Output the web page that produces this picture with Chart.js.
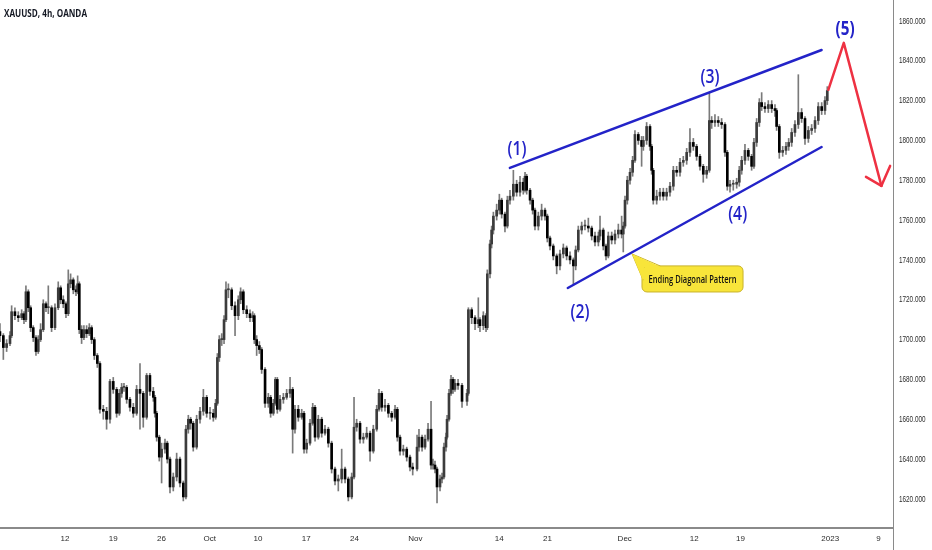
<!DOCTYPE html>
<html>
<head>
<meta charset="utf-8">
<script src="https://cdn.jsdelivr.net/npm/chart.js@4.4.1/dist/chart.umd.min.js"></script>
<style>
  html, body { margin: 0; padding: 0; background: #ffffff; }
  #chart { display: block; }
</style>
</head>
<body>
<canvas id="chart" width="932" height="550"></canvas>
<script>
// XAUUSD 4h candles (x = trading day, 0 = Sep 12)
var firstOpen = 1704;

var barDay = [
  -6.74,-6.39,-6.05,-5.70,-5.53,-5.19,-4.84,-4.49,-4.25,-4.05,
  -3.80,-3.56,-3.29,-3.01,-2.77,-2.53,-2.25,-1.97,-1.73,-1.39,
  -1.04,-0.70,-0.45,-0.18,0.10,0.34,0.58,0.86,1.14,1.31,
  1.48,1.72,1.96,2.24,2.52,2.76,3.04,3.35,3.62,3.97,
  4.31,4.66,5.00,5.35,5.63,5.87,6.11,6.39,6.73,7.08,
  7.42,7.77,8.11,8.46,8.80,9.15,9.32,9.50,9.77,10.01,
  10.36,10.60,10.88,11.22,11.57,11.91,12.26,12.53,12.78,13.02,
  13.29,13.64,13.99,
  14.34,14.68,15.03,15.37,15.61,15.79,15.99,16.24,16.48,16.68,
  16.93,17.27,17.62,17.96,18.20,18.48,18.83,19.17,19.45,19.62,
  19.86,20.14,20.38,20.73,21.07,21.31,21.59,21.80,22.00,22.28,
  22.63,22.97,23.32,23.59,23.83,24.18,24.53,24.77,25.04,25.39,
  25.67,25.91,26.25,26.60,26.94,27.29,27.63,27.98,28.32,28.67,
  29.02,29.36,29.71,29.95,30.22,30.57,30.92,31.26,31.61,31.95,
  32.30,32.54,32.82,33.16,33.51,33.85,34.20,34.44,34.72,35.06,
  35.41,35.75,36.03,
  36.48,36.68,37.00,37.31,37.62,37.93,38.13,38.34,38.55,38.86,
  39.07,39.27,39.48,39.59,39.79,40.00,40.21,40.41,40.73,41.14,41.66,
  41.80,42.14,42.49,42.83,43.00,43.35,43.63,43.76,44.04,44.21,
  44.39,44.73,45.01,45.25,45.59,45.84,46.11,46.46,46.80,47.15,
  47.49,47.67,47.84,48.19,48.46,48.70,49.05,49.39,49.74,49.98,
  50.26,50.60,50.95,51.29,51.64,51.98,52.33,52.68,52.92,53.19,
  53.54,53.88,54.23,54.58,54.92,55.27,
  55.44,55.78,56.06,56.30,56.65,56.99,57.34,57.68,57.85,58.03,
  58.27,58.55,58.82,59.06,59.41,59.75,59.93,60.27,60.62,60.79,
  60.96,61.31,61.65,62.00,62.34,62.69,63.04,63.38,63.73,64.07,
  64.42,64.76,65.11,65.45,65.80,66.14,66.49,66.77,67.01,67.35,
  67.70,68.04,68.39,68.63,68.91,69.25,69.60,69.87,70.12,70.46,
  70.81,71.15,71.39,71.67,71.95,72.19,72.53,72.88,73.23,73.57,
  73.74,74.02,74.37,74.71,74.99,75.30,75.64,75.99,76.33,76.68,
  77.03,77.37,77.72,78.06,78.41,78.75,78.99
];

var barClose = [
  1702,1696,1698,1702,1714,1712,1711,1713,1710,1724,
  1716,1706,1701,1694,1700,1705,1718,1716,1716,1706,
  1716,1726,1720,1718,1713,1728,1730,1725,1724,1728,
  1705,1701,1705,1703,1706,1700,1692,1688,1665,1664,
  1660,1679,1675,1663,1673,1676,1676,1670,1666,1663,
  1675,1673,1661,1682,1674,1671,1663,1651,1641,1645,
  1648,1640,1626,1631,1640,1628,1621,1655,1660,1658,
  1646,1660,1664,
  1671,1663,1663,1661,1668,1691,1700,1700,1710,1725,
  1725,1717,1712,1720,1724,1715,1713,1711,1712,1700,
  1697,1695,1685,1668,1671,1663,1668,1680,1665,1670,
  1671,1673,1675,1655,1665,1661,1663,1645,1648,1658,
  1666,1651,1660,1653,1655,1648,1635,1629,1630,1635,
  1630,1621,1631,1656,1658,1650,1651,1653,1644,1655,
  1665,1673,1666,1667,1663,1661,1665,1651,1644,1645,
  1641,1636,1635,
  1646,1651,1646,1650,1655,1637,1637,1635,1626,1630,
  1631,1646,1651,1660,1673,1680,1675,1678,1677,1669,1673,
  1715,1711,1708,1710,1707,1712,1706,1733,1748,1755,
  1762,1765,1770,1763,1757,1770,1772,1778,1774,1779,
  1775,1782,1775,1770,1765,1757,1762,1765,1762,1751,
  1747,1742,1737,1743,1746,1742,1740,1737,1745,1755,
  1757,1757,1756,1752,1749,1752,
  1755,1747,1742,1752,1750,1753,1755,1753,1757,1770,
  1780,1784,1790,1803,1800,1797,1800,1807,1797,1785,
  1770,1772,1774,1772,1774,1777,1785,1784,1789,1790,
  1794,1799,1797,1792,1787,1783,1785,1810,1809,1810,
  1809,1808,1794,1777,1778,1778,1779,1785,1790,1795,
  1792,1787,1799,1809,1819,1817,1816,1818,1816,1815,
  1807,1794,1795,1797,1799,1804,1808,1814,1811,1801,
  1805,1806,1810,1817,1815,1820,1825
];

var barHigh = [
  1708,1703,1700,1704,1717,1716,1714,1715,1714,1727,
  1725,1717,1707,1702,1702,1708,1720,1719,1727,1717,
  1718,1729,1727,1722,1719,1735,1733,1731,1727,1732,
  1729,1707,1707,1707,1708,1707,1701,1693,1689,1667,
  1666,1680,1681,1676,1675,1678,1678,1677,1671,1668,
  1677,1688,1674,1683,1683,1676,1672,1664,1652,1648,
  1650,1649,1641,1633,1643,1641,1629,1657,1662,1661,
  1659,1662,1666,
  1675,1672,1666,1665,1670,1693,1702,1703,1712,1729,
  1728,1726,1719,1722,1726,1725,1717,1715,1714,1713,
  1702,1699,1696,1686,1673,1672,1670,1681,1681,1672,
  1673,1675,1681,1676,1667,1667,1665,1664,1650,1660,
  1668,1667,1662,1661,1657,1656,1649,1636,1632,1645,
  1636,1631,1633,1671,1660,1659,1653,1656,1654,1657,
  1667,1675,1674,1670,1668,1664,1667,1666,1652,1647,
  1646,1642,1638,
  1652,1655,1652,1652,1658,1669,1640,1639,1636,1632,
  1633,1648,1653,1662,1675,1682,1681,1680,1680,1678,1675,
  1716,1716,1712,1721,1711,1714,1713,1735,1750,1757,
  1764,1768,1773,1771,1764,1772,1775,1785,1780,1782,
  1781,1784,1783,1776,1771,1766,1764,1768,1766,1763,
  1752,1748,1743,1745,1748,1747,1744,1741,1747,1757,
  1759,1760,1761,1757,1754,1754,
  1762,1756,1748,1754,1754,1755,1758,1762,1759,1772,
  1782,1786,1792,1805,1804,1802,1802,1809,1808,1798,
  1786,1775,1776,1776,1776,1779,1787,1787,1791,1792,
  1796,1806,1801,1798,1793,1788,1787,1824,1812,1813,
  1812,1811,1809,1795,1780,1780,1781,1787,1792,1798,
  1796,1793,1801,1811,1821,1824,1819,1820,1820,1818,
  1816,1808,1797,1799,1801,1806,1810,1833,1816,1812,
  1807,1808,1812,1819,1819,1822,1827
];

var barLow = [
  1699,1690,1694,1697,1701,1710,1709,1710,1708,1709,
  1714,1704,1699,1692,1693,1699,1704,1714,1713,1704,
  1705,1715,1718,1716,1711,1712,1726,1723,1722,1723,
  1703,1698,1700,1701,1702,1698,1690,1686,1663,1660,
  1655,1658,1673,1661,1662,1671,1674,1668,1664,1661,
  1662,1655,1656,1660,1672,1669,1661,1649,1639,1628,
  1643,1638,1623,1624,1629,1626,1619,1620,1653,1655,
  1644,1645,1658,
  1662,1661,1660,1659,1660,1667,1689,1697,1698,1709,
  1721,1715,1702,1710,1718,1713,1711,1709,1709,1698,
  1692,1693,1683,1666,1666,1661,1662,1667,1663,1664,
  1668,1670,1671,1643,1653,1659,1660,1643,1643,1647,
  1657,1649,1650,1651,1652,1646,1633,1627,1624,1628,
  1628,1619,1620,1630,1654,1648,1648,1650,1639,1643,
  1654,1664,1664,1664,1661,1659,1660,1649,1642,1642,
  1639,1634,1632,
  1634,1644,1644,1645,1649,1635,1635,1633,1618,1624,
  1628,1630,1644,1650,1659,1672,1673,1674,1675,1666,1667,
  1672,1708,1705,1706,1704,1705,1704,1705,1731,1746,
  1753,1760,1763,1761,1754,1756,1768,1770,1772,1772,
  1773,1774,1773,1768,1763,1755,1755,1760,1760,1749,
  1745,1740,1733,1735,1741,1740,1738,1728,1735,1744,
  1753,1755,1754,1750,1747,1747,
  1750,1745,1740,1741,1748,1748,1751,1751,1744,1756,
  1768,1778,1782,1789,1798,1787,1795,1798,1795,1783,
  1768,1768,1770,1770,1770,1772,1775,1782,1782,1787,
  1788,1792,1795,1790,1785,1779,1781,1784,1806,1807,
  1807,1806,1792,1775,1774,1775,1776,1777,1783,1788,
  1790,1785,1786,1797,1807,1815,1814,1814,1814,1812,
  1805,1791,1792,1793,1795,1797,1802,1806,1809,1798,
  1799,1803,1804,1808,1813,1813,1818
];

// bottom axis labels and where they sit (trading day)
var tickDays = [0, 5, 10, 15, 20, 25, 30, 36.3, 45, 50, 58, 65.2, 70, 79.3, 84.3];
var tickNames = ["12", "19", "26", "Oct", "10", "17", "24", "Nov", "14", "21", "Dec", "12", "19", "2023", "9"];
var priceTicks = [1620, 1640, 1660, 1680, 1700, 1720, 1740, 1760, 1780, 1800, 1820, 1840, 1860];

// elliott wave drawing, in (day, price)
var upperLine = [[46.1, 1786.2], [78.4, 1845.4]];
var lowerLine = [[52.1, 1725.9], [78.4, 1796.7]];
var waveLabels = ["(1)", "(2)", "(3)", "(4)", "(5)"];
var waveAt = [[46.84, 1795.2], [53.37, 1713.4], [66.84, 1831.4], [69.7, 1762.6], [80.83, 1856.0]];
var projection = [[79.1, 1825.4], [80.7, 1849.0], [84.6, 1777.2]];
var arrowWings = [[83.0, 1781.7], [85.5, 1787.2]];
var noteText = "Ending Diagonal Pattern";
var noteBox = [[59.79, 1737.0], [70.26, 1723.9]];
var notePointer = [[58.76, 1743.0], [59.90, 1730.0], [61.66, 1737.0]];

var bodies = [], wicks = [], bodyColors = [];
for (var i = 0; i < barClose.length; i++) {
    var o = i === 0 ? firstOpen : barClose[i - 1];
    var c = barClose[i];
    bodies.push({x: barDay[i], y: [Math.min(o, c), Math.max(o, c)]});
    wicks.push({x: barDay[i], y: [barLow[i], barHigh[i]]});
    bodyColors.push(c >= o ? '#3c3c3c' : '#000000');
}

var BLUE = '#2323c8';
var RED = '#ee3142';

function squeezeText(ctx, text, x, y, font, color, width, align) {
    ctx.save();
    ctx.font = font;
    ctx.fillStyle = color;
    ctx.textBaseline = 'middle';
    var w = ctx.measureText(text).width;
    var sx = width ? width / w : 1;
    ctx.translate(x, y);
    ctx.scale(sx, 1);
    ctx.textAlign = align || 'center';
    ctx.fillText(text, 0, 0);
    ctx.restore();
}

var overlay = {
    id: 'overlay',
    afterDatasetsDraw: function (chart) {
        var ctx = chart.ctx, xs = chart.scales.x, ys = chart.scales.y;
        var px = function (p) { return [xs.getPixelForValue(p[0]), ys.getPixelForValue(p[1])]; };

        ctx.save();
        ctx.lineCap = 'round';
        ctx.lineJoin = 'round';

        // trend lines of the diagonal
        ctx.strokeStyle = BLUE;
        ctx.lineWidth = 2.5;
        [upperLine, lowerLine].forEach(function (ln) {
            var a = px(ln[0]), b = px(ln[1]);
            ctx.beginPath();
            ctx.moveTo(a[0], a[1]);
            ctx.lineTo(b[0], b[1]);
            ctx.stroke();
        });

        // projected wave 5 and the drop
        ctx.strokeStyle = RED;
        ctx.lineWidth = 2.5;
        ctx.beginPath();
        projection.forEach(function (p, k) {
            var q = px(p);
            if (k === 0) ctx.moveTo(q[0], q[1]); else ctx.lineTo(q[0], q[1]);
        });
        ctx.stroke();
        var tip = px(projection[projection.length - 1]);
        arrowWings.forEach(function (w) {
            var q = px(w);
            ctx.beginPath();
            ctx.moveTo(q[0], q[1]);
            ctx.lineTo(tip[0], tip[1]);
            ctx.stroke();
        });

        // callout
        var b0 = px(noteBox[0]), b1 = px(noteBox[1]);
        var t0 = px(notePointer[0]), t1 = px(notePointer[1]), t2 = px(notePointer[2]);
        ctx.fillStyle = '#f8e53a';
        ctx.strokeStyle = '#c8b22a';
        ctx.lineWidth = 1;
        ctx.beginPath();
        ctx.roundRect(b0[0], b0[1], b1[0] - b0[0], b1[1] - b0[1], 5);
        ctx.fill();
        ctx.stroke();
        ctx.beginPath();
        ctx.moveTo(t1[0], t1[1]);
        ctx.lineTo(t0[0], t0[1]);
        ctx.lineTo(t2[0], t2[1]);
        ctx.stroke();
        ctx.beginPath();
        ctx.moveTo(t1[0], t1[1] + 1);
        ctx.lineTo(t0[0], t0[1]);
        ctx.lineTo(t2[0] + 1, t2[1] + 1);
        ctx.lineTo(t1[0] + 1, t2[1] + 1);
        ctx.closePath();
        ctx.fill();
        squeezeText(ctx, noteText, (b0[0] + b1[0]) / 2, (b0[1] + b1[1]) / 2 + 0.5,
            '600 11px "Open Sans"', '#111111', 88);

        // wave counts
        waveLabels.forEach(function (lab, k) {
            var q = px(waveAt[k]);
            var last = k === waveLabels.length - 1;
            squeezeText(ctx, lab, q[0], q[1], (last ? 'bold 20px' : '600 19px') + ' "Open Sans"', BLUE, 19);
        });

        ctx.restore();
    },
    afterDraw: function (chart) {
        var ctx = chart.ctx, ys = chart.scales.y;
        ctx.save();
        // price scale divider runs to the bottom edge
        ctx.strokeStyle = '#8a8a8a';
        ctx.lineWidth = 1;
        ctx.beginPath();
        ctx.moveTo(ys.left + 0.5, 0);
        ctx.lineTo(ys.left + 0.5, chart.height);
        ctx.stroke();
        // price labels, narrow like the reference
        ys.ticks.forEach(function (t) {
            squeezeText(ctx, Number(t.value).toFixed(3), ys.left + 6, ys.getPixelForValue(t.value),
                '9.5px "Liberation Sans"', '#2a2a2a', 26.5, 'left');
        });
        squeezeText(ctx, 'XAUUSD, 4h, OANDA', 4, 14, 'bold 10px "Open Sans"', '#131722', 83, 'left');
        ctx.restore();
    }
};

var tickFont = {family: '"Liberation Sans", sans-serif', size: 8};

new Chart(document.getElementById('chart'), {
    type: 'bar',
    data: {
        datasets: [
            {data: bodies, backgroundColor: bodyColors, barThickness: 2, grouped: false, minBarLength: 1},
            {data: wicks, backgroundColor: '#7a7a7a', barThickness: 1, grouped: false}
        ]
    },
    options: {
        responsive: false,
        animation: false,
        devicePixelRatio: 1,
        layout: {padding: 0},
        plugins: {legend: {display: false}, tooltip: {enabled: false}},
        scales: {
            x: {
                type: 'linear',
                min: -6.736,
                max: 85.8,
                offset: false,
                grid: {display: false, drawTicks: false},
                border: {color: '#8a8a8a', width: 2},
                ticks: {
                    autoSkip: false, maxRotation: 0, padding: 6, color: '#2a2a2a', font: tickFont,
                    callback: function (v) {
                        var k = tickDays.indexOf(v);
                        return k >= 0 ? tickNames[k] : '';
                    }
                },
                afterBuildTicks: function (s) {
                    s.ticks = tickDays.map(function (d) { return {value: d}; });
                },
                afterFit: function (s) { s.height = 22; }
            },
            y: {
                position: 'right',
                min: 1605.4,
                max: 1870.5,
                grid: {display: false, drawTicks: false},
                border: {color: '#8a8a8a', width: 1},
                ticks: {display: false},
                afterBuildTicks: function (s) {
                    s.ticks = priceTicks.map(function (p) { return {value: p}; });
                },
                afterFit: function (s) { s.width = 39; }
            }
        }
    },
    plugins: [overlay]
});
</script>
</body>
</html>
